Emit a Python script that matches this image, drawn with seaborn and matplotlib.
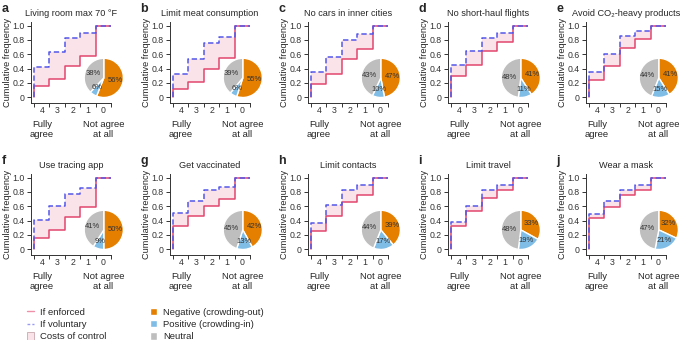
import matplotlib
matplotlib.use("Agg")
import matplotlib.pyplot as plt
import seaborn as sns
from matplotlib.lines import Line2D
from matplotlib.patches import Patch

# panel titles and letters
letters = ["a", "b", "c", "d", "e", "f", "g", "h", "i", "j"]
titles = ["Living room max 70 °F", "Limit meat consumption", "No cars in inner cities",
          "No short-haul flights", "Avoid CO₂-heavy products", "Use tracing app",
          "Get vaccinated", "Limit contacts", "Limit travel", "Wear a mask"]

# agreement levels (4 = fully agree ... 0 = not agree at all)
levels = [4, 3, 2, 1, 0]

# cumulative frequency at levels 4, 3, 2, 1, 0
enforced = [
    [0.16, 0.26, 0.43, 0.57, 1.0],
    [0.11, 0.21, 0.40, 0.55, 1.0],
    [0.19, 0.33, 0.53, 0.67, 1.0],
    [0.30, 0.45, 0.65, 0.77, 1.0],
    [0.24, 0.44, 0.69, 0.81, 1.0],
    [0.16, 0.27, 0.45, 0.59, 1.0],
    [0.32, 0.46, 0.61, 0.70, 1.0],
    [0.26, 0.46, 0.66, 0.76, 1.0],
    [0.33, 0.53, 0.71, 0.82, 1.0],
    [0.44, 0.59, 0.76, 0.82, 1.0],
]
voluntary = [
    [0.42, 0.63, 0.82, 0.89, 1.0],
    [0.33, 0.54, 0.76, 0.84, 1.0],
    [0.35, 0.56, 0.80, 0.88, 1.0],
    [0.45, 0.65, 0.83, 0.90, 1.0],
    [0.35, 0.61, 0.85, 0.93, 1.0],
    [0.41, 0.60, 0.77, 0.85, 1.0],
    [0.50, 0.67, 0.82, 0.87, 1.0],
    [0.36, 0.62, 0.82, 0.89, 1.0],
    [0.38, 0.61, 0.83, 0.90, 1.0],
    [0.49, 0.68, 0.82, 0.90, 1.0],
]

# pie shares (%)
negative = [56, 55, 47, 41, 41, 50, 42, 39, 33, 32]
positive = [6, 6, 10, 11, 15, 9, 13, 17, 19, 21]
neutral = [38, 39, 43, 48, 44, 41, 45, 44, 48, 47]

RED = "#E2466F"
BLUE = "#5457E8"
FILL = "#FBE4E9"
ORANGE = "#E47F00"
LIGHTBLUE = "#80BDE6"
GREY = "#BEBEBE"

sns.set_theme(style="ticks")
plt.rcParams["font.family"] = ["Liberation Sans", "DejaVu Sans"]
plt.rcParams["axes.edgecolor"] = "#333333"
plt.rcParams["xtick.color"] = "#333333"
plt.rcParams["ytick.color"] = "#333333"

fig = plt.figure(figsize=(6.85, 3.4), dpi=100)
W, H = 685, 340
lefts = [31, 170, 308, 448, 586]
bottoms = [103, 255]
aw, ah = 80, 81

# bin edges between the answer levels
edges = [v + 0.5 for v in levels] + [levels[-1] - 0.5]


def step_xy(vals):
    xs = [edges[0]] + edges
    ys = [0] + vals + [vals[-1]]
    return xs, ys


for i in range(10):
    row, col = divmod(i, 5)
    ax = fig.add_axes([lefts[col] / W, (H - bottoms[row]) / H, aw / W, ah / H])

    xe, ye = step_xy(enforced[i])
    xv, yv = step_xy(voluntary[i])
    ax.fill_between(xe, ye, yv, step="post", color=FILL, lw=0)
    sns.lineplot(x=xe, y=ye, sort=False, estimator=None, drawstyle="steps-post",
                 color=RED, lw=1.1, ax=ax)
    sns.lineplot(x=xv, y=yv, sort=False, estimator=None, drawstyle="steps-post",
                 color=BLUE, lw=1.1, linestyle=(0, (3.5, 1.8)), ax=ax)

    ax.set_xlim(4.7, -0.5)
    ax.set_ylim(-0.08, 1.05)
    ax.set_xticks(edges)
    ax.set_xticklabels([])
    ax.set_xticks(levels, minor=True)
    ax.set_xticklabels([str(v) for v in levels], minor=True)
    ax.tick_params(axis="x", which="minor", length=0, labelsize=6.3, pad=2.5)
    ax.set_yticks([0, 0.2, 0.4, 0.6, 0.8, 1.0])
    ax.set_yticklabels(["0", "0.2", "0.4", "0.6", "0.8", "1.0"])
    ax.tick_params(which="major", labelsize=6.3, length=3, width=0.7, pad=1.5)
    for s in ["left", "bottom"]:
        ax.spines[s].set_linewidth(0.7)
    sns.despine(ax=ax)
    ax.set_ylabel("Cumulative frequency", fontsize=6.6)
    ax.yaxis.set_label_coords(-0.24, 0.5)
    ax.set_title(titles[i], fontsize=6.6, pad=4)
    ax.text(-0.37, 1.12, letters[i], transform=ax.transAxes, fontsize=9,
            fontweight="bold", va="baseline", ha="left")

    trans = ax.get_xaxis_transform()
    ax.text(4, -0.21, "Fully\nagree", transform=trans, ha="center", va="top",
            fontsize=6.8, linespacing=1.15)
    ax.text(0, -0.21, "Not agree\nat all", transform=trans, ha="center", va="top",
            fontsize=6.8, linespacing=1.15)

    pax = ax.inset_axes([0.66, 0.06, 0.5, 0.5])
    pax.pie([negative[i], positive[i], neutral[i]], colors=[ORANGE, LIGHTBLUE, GREY],
            startangle=90, counterclock=False, autopct=lambda p: f"{p:.0f}%",
            pctdistance=0.6, textprops=dict(fontsize=5.5, color="#333333"))
    pax.set_xlim(-1.02, 1.02)
    pax.set_ylim(-1.02, 1.02)
    pax.set_aspect("equal")

handles = [
    Line2D([], [], color=RED, lw=1.0, alpha=0.6),
    Line2D([], [], color=BLUE, lw=1.0, linestyle=(0, (2, 1.5)), alpha=0.6),
    Patch(facecolor=FILL, edgecolor="#C9A9B0", lw=0.6),
    Patch(facecolor=ORANGE),
    Patch(facecolor=LIGHTBLUE),
    Patch(facecolor=GREY),
]
labels = ["If enforced", "If voluntary", "Costs of control",
          "Negative (crowding-out)", "Positive (crowding-in)", "Neutral"]
fig.legend(handles, labels, ncol=2, loc="upper left", bbox_to_anchor=(22 / W, 1 - 303 / H),
           frameon=False, fontsize=6.8, handlelength=0.8, handleheight=0.8,
           handletextpad=0.6, columnspacing=4.6, labelspacing=0.35, borderpad=0)

fig.savefig("out.png", dpi=100)
